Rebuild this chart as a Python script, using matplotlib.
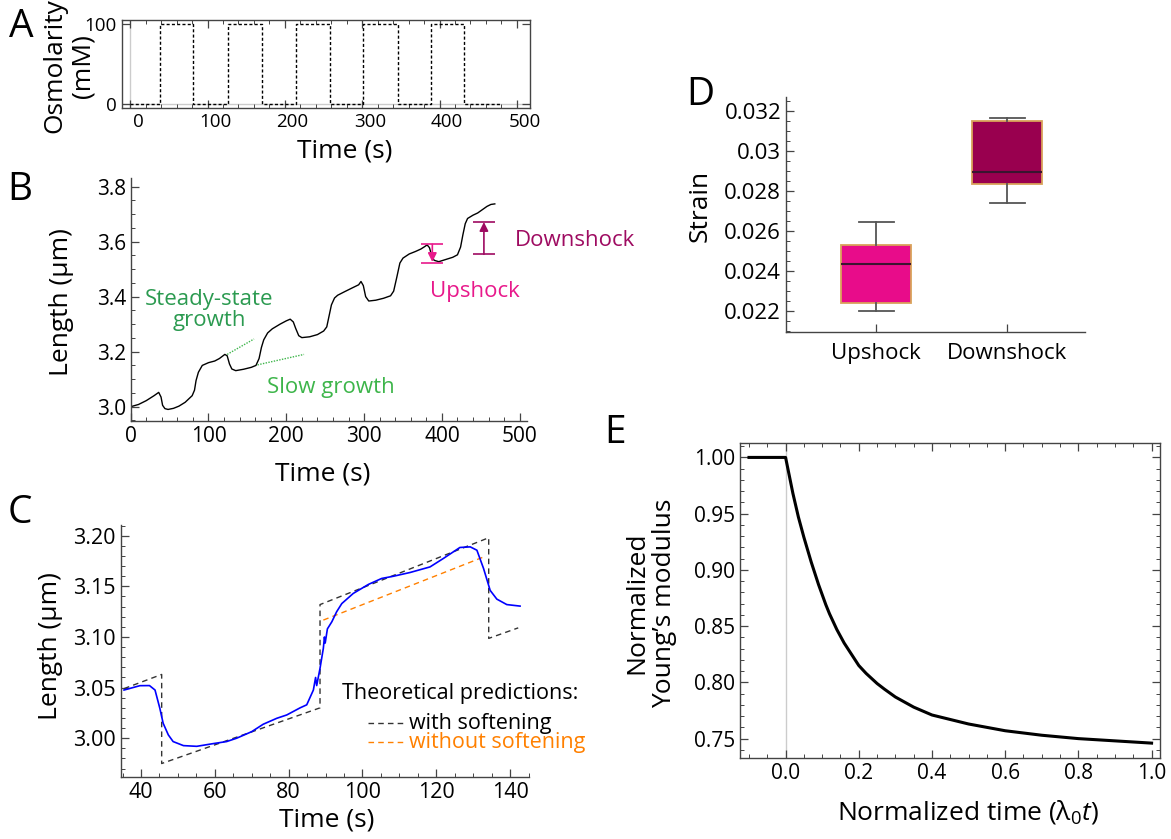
import matplotlib
matplotlib.use("Agg")
import matplotlib.pyplot as plt
import matplotlib.transforms as mtransforms
from matplotlib.ticker import MultipleLocator, FixedLocator, FixedFormatter, FormatStrFormatter

plt.rcParams['font.family'] = ['Open Sans', 'DejaVu Sans']
plt.rcParams['mathtext.fontset'] = 'custom'
plt.rcParams['mathtext.rm'] = 'Open Sans'
plt.rcParams['mathtext.it'] = 'Open Sans:italic'
plt.rcParams['axes.linewidth'] = 1.0

# ---------------- data ----------------
# Panel A: osmolarity square wave
osm_time = [0, 38.8, 81.8, 126.8, 170.7, 214.5, 258.4, 301.4, 346.6, 388.9, 432.0, 478.0]
osm_level = [0, 100, 0, 100, 0, 100, 0, 100, 0, 100, 0, 0]
osm_xticks = [0, 100, 200, 300, 400, 500]
osm_yticks = [0, 100]

# Panel B: cell length trace
b_time = [0, 10, 20, 30, 36, 39, 41, 44, 48, 55, 62, 70, 79, 82, 84, 87, 92, 100, 108, 114,
          121, 124, 127, 130, 135, 145, 155, 161, 165, 168, 171, 176, 182, 192, 200, 205, 209,
          212, 216, 220, 230, 240, 248, 252, 255, 258, 262, 266, 275, 285, 293, 296, 299, 302,
          306, 315, 325, 334, 338, 342, 346, 350, 358, 366, 373, 378, 381, 384, 387, 390, 396,
          405, 414, 420, 424, 427, 430, 433, 440, 446, 452, 458, 463, 468]
b_length = [3.000, 3.008, 3.022, 3.040, 3.052, 3.035, 3.005, 2.993, 2.990, 2.994, 3.002, 3.016,
            3.040, 3.060, 3.095, 3.125, 3.150, 3.160, 3.166, 3.175, 3.190, 3.185, 3.155, 3.137,
            3.131, 3.136, 3.143, 3.150, 3.175, 3.215, 3.243, 3.268, 3.283, 3.300, 3.312, 3.318,
            3.308, 3.285, 3.258, 3.251, 3.254, 3.262, 3.275, 3.290, 3.330, 3.370, 3.395, 3.405,
            3.418, 3.432, 3.443, 3.455, 3.440, 3.400, 3.384, 3.387, 3.394, 3.403, 3.420, 3.470,
            3.522, 3.540, 3.555, 3.564, 3.573, 3.582, 3.588, 3.578, 3.548, 3.532, 3.527, 3.535,
            3.543, 3.552, 3.580, 3.625, 3.665, 3.684, 3.696, 3.704, 3.716, 3.728, 3.735, 3.737]
steady_line_t = [124, 158.5]
steady_line_L = [3.190, 3.246]
slow_line_t = [163, 222.8]
slow_line_L = [3.152, 3.190]
upshock_t, upshock_top, upshock_bot = 387.7, 3.590, 3.524
downshock_t, downshock_top, downshock_bot = 454.0, 3.673, 3.554

# Panel C: zoomed trace and predictions
c_time = [35.4, 39.7, 42.3, 43.8, 45.1, 46.0, 47.4, 48.7, 51.5, 55.1,
          59.6, 63.2, 65.9, 70.0, 73.1, 76.8, 79.5, 83.1, 84.9, 86.7,
          87.3, 87.6, 88.5, 89.4, 89.7, 89.9, 90.5, 91.7, 93.0, 94.4,
          97.5, 101.6, 105.2, 108.4, 112.9, 118.3, 121.9, 126.4, 129.2, 131.0,
          132.8, 134.6, 136.4, 139.1, 142.7]
c_length = [3.0476, 3.0519, 3.0520, 3.0476, 3.0296, 3.0148, 3.0033, 2.9967, 2.9927, 2.9920,
            2.9947, 2.9967, 3.0000, 3.0065, 3.0138, 3.0197, 3.0230, 3.0300, 3.0330, 3.0476,
            3.0600, 3.0520, 3.0690, 3.0888, 3.1000, 3.0940, 3.1080, 3.1150, 3.1249, 3.1330,
            3.1430, 3.1519, 3.1578, 3.1600, 3.1637, 3.1692, 3.1775, 3.1884, 3.1890, 3.1857,
            3.1677, 3.1460, 3.1374, 3.1320, 3.1305]
pred_soft_time = [35.4, 45.6, 45.6, 88.5, 88.5, 134.2, 134.2, 142.2]
pred_soft_length = [3.049, 3.063, 2.975, 3.030, 3.132, 3.198, 3.0986, 3.109]
pred_nosoft_time = [89.4, 132.8]
pred_nosoft_length = [3.1167, 3.179]

# Panel D: strain box plots
strain_groups = ['Upshock', 'Downshock']
strain_whislo = [0.02203, 0.02741]
strain_q1 = [0.02240, 0.02835]
strain_med = [0.02435, 0.02896]
strain_q3 = [0.02528, 0.03150]
strain_whishi = [0.02643, 0.03162]
strain_colors = ['#E80C8A', '#99004F']
strain_yticks = [0.022, 0.024, 0.026, 0.028, 0.030, 0.032]
strain_yticklabels = ['0.022', '0.024', '0.026', '0.028', '0.03', '0.032']

# Panel E: normalized Young's modulus
e_time = [-0.1, 0.0, 0.005, 0.01, 0.015, 0.02, 0.025, 0.035, 0.04, 0.05, 0.06, 0.07, 0.08,
          0.09, 0.1, 0.11, 0.12, 0.13, 0.14, 0.16, 0.18, 0.2, 0.22, 0.25, 0.27, 0.3, 0.35,
          0.4, 0.45, 0.5, 0.6, 0.7, 0.8, 0.9, 1.0]
e_mod = [1.0, 1.0, 0.992, 0.984, 0.976, 0.968, 0.961, 0.947, 0.941, 0.929, 0.918, 0.907,
         0.897, 0.887, 0.878, 0.869, 0.861, 0.854, 0.847, 0.835, 0.825, 0.815, 0.808, 0.799,
         0.794, 0.787, 0.778, 0.771, 0.767, 0.763, 0.757, 0.753, 0.750, 0.748, 0.746]

# ---------------- figure ----------------
W, H = 1171, 839
fig = plt.figure(figsize=(W / 100, H / 100), dpi=100)


def rect(x0, y0, x1, y1):
    return [x0 / W, 1 - y1 / H, (x1 - x0) / W, (y1 - y0) / H]


def ftext(x, y, s, **kw):
    kw.setdefault('ha', 'center')
    kw.setdefault('va', 'center')
    fig.text(x / W, 1 - y / H, s, **kw)


AX = '#444444'
LAB = 19
LET = 28


def style(ax, size, frame=False, major=6, minor=3):
    ax.tick_params(which='both', direction='in', color=AX, labelsize=size, pad=3.5,
                   top=frame, right=frame)
    ax.tick_params(which='major', length=major, width=0.9)
    ax.tick_params(which='minor', length=minor, width=0.7)
    for sp in ax.spines.values():
        sp.set_color(AX)
    if not frame:
        ax.spines['top'].set_visible(False)
        ax.spines['right'].set_visible(False)


# ---- Panel A ----
axA = fig.add_axes(rect(121.7, 20, 530, 108))
axA.set_xlim(-11, 517)
axA.set_ylim(-5, 105)
axA.axvline(0, color='#cccccc', lw=1.0, zorder=0)
axA.axhline(0, color='#cccccc', lw=1.0, zorder=0)
axA.step(osm_time, osm_level, where='post', color='black', lw=1.0, ls=(0, (2.2, 1.6)))
axA.xaxis.set_major_locator(FixedLocator(osm_xticks))
axA.xaxis.set_minor_locator(MultipleLocator(20))
axA.yaxis.set_major_locator(FixedLocator(osm_yticks))
style(axA, 13.5, frame=True)
offA = mtransforms.ScaledTranslation(7.7 / 100, 0, fig.dpi_scale_trans)
for lab in axA.get_xticklabels():
    lab.set_transform(lab.get_transform() + offA)
ftext(55, 66, 'Osmolarity', rotation=90, fontsize=LAB)
ftext(83, 66, '(mM)', rotation=90, fontsize=LAB)
ftext(345, 151, 'Time (s)', fontsize=LAB)
ftext(21, 27, 'A', fontsize=LET)

# ---- Panel B ----
axB = fig.add_axes(rect(130.7, 178.3, 526.7, 421))
axB.set_xlim(0, 509)
axB.set_ylim(2.948, 3.83)
axB.plot(b_time, b_length, color='black', lw=1.0)
green_d = '#2B9A50'
green_l = '#3DB54A'
axB.plot(steady_line_t, steady_line_L, color=green_l, lw=1.0, ls=(0, (1, 1)))
axB.plot(slow_line_t, slow_line_L, color=green_l, lw=1.0, ls=(0, (1, 1)))
pink = '#E8198B'
plum = '#9E0B61'
axB.annotate('', xy=(upshock_t, upshock_bot + 0.002), xytext=(upshock_t, upshock_top),
             arrowprops=dict(arrowstyle='-|>', color=pink, lw=1.2, mutation_scale=13,
                             shrinkA=0, shrinkB=0))
axB.hlines([upshock_top, upshock_bot], upshock_t - 14, upshock_t + 14, color=pink, lw=1.2)
axB.annotate('', xy=(downshock_t, downshock_top - 0.002), xytext=(downshock_t, downshock_bot),
             arrowprops=dict(arrowstyle='-|>', color=plum, lw=1.2, mutation_scale=13,
                             shrinkA=0, shrinkB=0))
axB.hlines([downshock_top, downshock_bot], downshock_t - 14, downshock_t + 14, color=plum, lw=1.2)
axB.xaxis.set_major_locator(MultipleLocator(100))
axB.xaxis.set_minor_locator(MultipleLocator(20))
axB.yaxis.set_major_locator(MultipleLocator(0.2))
axB.yaxis.set_minor_locator(MultipleLocator(0.05))
axB.yaxis.set_major_formatter(FormatStrFormatter('%.1f'))
style(axB, 15)
ftext(209, 310, 'Steady-state\ngrowth', fontsize=16, color=green_d, linespacing=1.05)
ftext(331, 388, 'Slow growth', fontsize=16, color=green_l)
ftext(475, 292, 'Upshock', fontsize=16, color=pink)
ftext(515, 241, 'Downshock', fontsize=16, color=plum, ha='left')
ftext(62, 302, 'Length (μm)', rotation=90, fontsize=LAB)
ftext(323, 474, 'Time (s)', fontsize=LAB)
ftext(20, 190, 'B', fontsize=LET)

# ---- Panel C ----
axC = fig.add_axes(rect(120.7, 525, 529.3, 776.7))
axC.set_xlim(34.5, 145.2)
axC.set_ylim(2.962, 3.2106)
axC.plot(pred_soft_time, pred_soft_length, color='#333333', lw=1.0, ls=(0, (4, 3)))
axC.plot(pred_nosoft_time, pred_nosoft_length, color='#FF8000', lw=1.0, ls=(0, (4, 3)))
axC.plot(c_time, c_length, color='#0000FF', lw=1.2)
axC.xaxis.set_major_locator(MultipleLocator(20))
axC.xaxis.set_minor_locator(MultipleLocator(5))
axC.yaxis.set_major_locator(MultipleLocator(0.05))
axC.yaxis.set_minor_locator(MultipleLocator(0.01))
axC.yaxis.set_major_formatter(FormatStrFormatter('%.2f'))
style(axC, 15.5)
ftext(341.7, 699, 'Theoretical predictions:', fontsize=15.5, ha='left', va='baseline')
fig.add_artist(plt.Line2D([368 / W, 403 / W], [1 - 723 / H, 1 - 723 / H], color='#333333',
                          lw=1.0, ls=(0, (4, 3))))
ftext(409, 729, 'with softening', fontsize=15.5, ha='left', va='baseline')
fig.add_artist(plt.Line2D([368 / W, 403 / W], [1 - 742 / H, 1 - 742 / H], color='#FF8000',
                          lw=1.0, ls=(0, (4, 3))))
ftext(409, 748, 'without softening', fontsize=15.5, ha='left', va='baseline', color='#FF8000')
ftext(51, 646, 'Length (μm)', rotation=90, fontsize=LAB)
ftext(327, 820, 'Time (s)', fontsize=LAB)
ftext(20, 513, 'C', fontsize=LET)

# ---- Panel D ----
axD = fig.add_axes(rect(786, 97, 1084.8, 331.5))
axD.set_xlim(0.311, 2.59)
axD.set_ylim(0.02099, 0.03268)
stats = []
for i, g in enumerate(strain_groups):
    stats.append(dict(label=g, whislo=strain_whislo[i], q1=strain_q1[i], med=strain_med[i],
                      q3=strain_q3[i], whishi=strain_whishi[i], fliers=[]))
bp = axD.bxp(stats, positions=[1, 2], widths=0.534, capwidths=0.27, patch_artist=True,
             showfliers=False,
             boxprops=dict(edgecolor='#D9A25A', linewidth=1.3),
             whiskerprops=dict(color='#555555', linewidth=1.3),
             capprops=dict(color='#555555', linewidth=1.3),
             medianprops=dict(color='#3A1530', linewidth=1.5))
for patch, c in zip(bp['boxes'], strain_colors):
    patch.set_facecolor(c)
axD.yaxis.set_major_locator(FixedLocator(strain_yticks))
axD.yaxis.set_major_formatter(FixedFormatter(strain_yticklabels))
axD.yaxis.set_minor_locator(MultipleLocator(0.0005))
style(axD, 16)
axD.tick_params(axis='x', pad=8)
ftext(700, 206, 'Strain', rotation=90, fontsize=LAB)
ftext(700, 95, 'D', fontsize=LET)

# ---- Panel E ----
axE = fig.add_axes(rect(740.2, 442.8, 1160, 758.3))
axE.set_xlim(-0.124, 1.023)
axE.set_ylim(0.7325, 1.013)
axE.axvline(0, color='#cccccc', lw=1.0, zorder=0)
axE.plot(e_time, e_mod, color='black', lw=2.2, solid_joinstyle='round')
axE.xaxis.set_major_locator(MultipleLocator(0.2))
axE.xaxis.set_minor_locator(MultipleLocator(0.05))
axE.yaxis.set_major_locator(MultipleLocator(0.05))
axE.yaxis.set_minor_locator(MultipleLocator(0.01))
axE.xaxis.set_major_formatter(FormatStrFormatter('%.1f'))
axE.yaxis.set_major_formatter(FormatStrFormatter('%.2f'))
style(axE, 15, frame=True)
ftext(651, 603, 'Normalized\nYoung\u2019s modulus', rotation=90, fontsize=LAB, linespacing=1.15)
ftext(968, 812, 'Normalized time ($\\mathrm{\\lambda}_\\mathrm{0}\\mathit{t}$)', fontsize=LAB)
ftext(615, 433, 'E', fontsize=LET)

fig.savefig('out.png', dpi=100)
